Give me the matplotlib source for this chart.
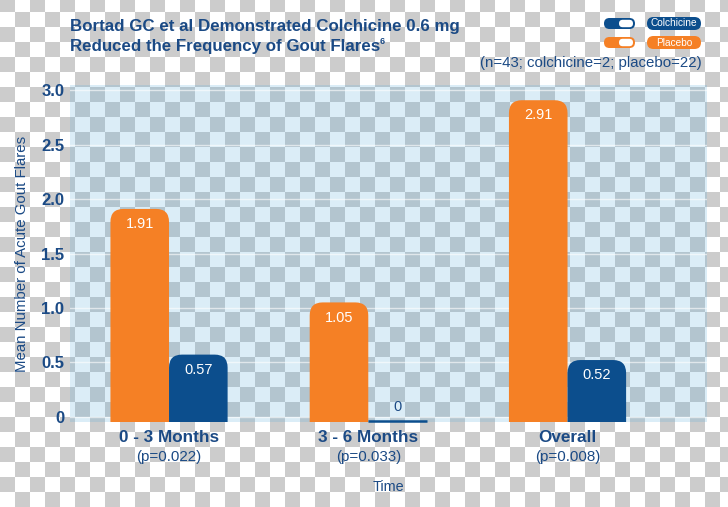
import numpy as np
import matplotlib
matplotlib.use("Agg")
import matplotlib.pyplot as plt
from matplotlib.patches import FancyBboxPatch

plt.rcParams['font.family'] = ['Liberation Sans', 'DejaVu Sans']

categories = ["0 - 3 Months", "3 - 6 Months", "Overall"]
p_values = ["(p=0.022)", "(p=0.033)", "(p=0.008)"]
placebo = [1.91, 1.05, 2.91]
colchicine = [0.57, 0.0, 0.52]
y_ticks = [0, 0.5, 1.0, 1.5, 2.0, 2.5, 3.0]
y_tick_labels = ["0" if t == 0 else f"{t:.1f}" for t in y_ticks]

ORANGE = "#f58025"
BLUE = "#0c4e8d"
TEXT = "#1b4a85"

W, H = 728, 507
fig = plt.figure(figsize=(W / 100, H / 100), dpi=100)

# checkerboard backdrop (transparent png look)
yy, xx = np.mgrid[0:H, 0:W]
cells = ((yy + 3) // 15 + xx // 15) % 2
bg = np.where(cells == 0, 204, 255).astype(np.uint8)
bg = np.repeat(bg[:, :, None], 3, axis=2)
fig.figimage(bg, xo=0, yo=0, origin='upper', zorder=-1)

ax = fig.add_axes([70 / W, 1 - 422 / H, 637 / W, 337 / H])
ax.set_facecolor((0.37, 0.68, 0.87, 0.22))
ax.set_xlim(-0.497, 2.70)
ax.set_ylim(-0.05, 3.05)
for s in ax.spines.values():
    s.set_visible(False)

x = np.arange(len(categories))
w = 0.294
asp = (637 / 3.197) / (337 / 3.1)
r = 0.065


def rounded_bar(xc, v, color):
    p = FancyBboxPatch((xc - w / 2, -0.6), w, v + 0.6,
                       boxstyle=f"round,pad=0,rounding_size={r}",
                       mutation_aspect=asp, fc=color, ec='none', zorder=2)
    ax.add_patch(p)


for i in range(len(categories)):
    for xc, v, col in [(x[i] - w / 2, placebo[i], ORANGE), (x[i] + w / 2, colchicine[i], BLUE)]:
        if v == 0:
            ax.plot([xc - w / 2, xc + w / 2], [-0.045, -0.045], color=BLUE, lw=1.8,
                    solid_capstyle='butt', zorder=2, clip_on=False)
            ax.annotate("0", (xc, 0), xytext=(0, 7), textcoords='offset points',
                        ha='center', va='center', color=TEXT, fontsize=10.5)
        else:
            rounded_bar(xc, v, col)
            ax.annotate(f"{v:.2f}", (xc, v), xytext=(0, -11), textcoords='offset points',
                        ha='center', va='center', color='white', fontsize=10.5, zorder=3)
    ax.text(x[i], -16 / 337, categories[i], transform=ax.get_xaxis_transform(),
            ha='center', va='center', fontsize=12.3, fontweight='bold', color=TEXT)
    ax.text(x[i], -35 / 337, p_values[i], transform=ax.get_xaxis_transform(),
            ha='center', va='center', fontsize=10.9, color=TEXT)

ax.set_xticks([])
ax.set_yticks(y_ticks, labels=y_tick_labels, fontweight='bold')
ax.tick_params(axis='y', length=0, pad=4, labelsize=12, labelcolor=TEXT)
ax.grid(axis='y', color='white', lw=1, alpha=0.6)
ax.set_axisbelow(True)

ax.set_xlabel("Time", va='center', fontsize=10.4, color=TEXT)
ax.xaxis.set_label_coords(0.5, -65 / 337)
ax.set_ylabel("Mean Number of Acute Gout Flares", va='center', fontsize=10.8, color=TEXT)
ax.yaxis.set_label_coords(-48 / 637, 0.5)

# decoration layer in pixel coordinates
dax = fig.add_axes([0, 0, 1, 1])
dax.set_xlim(0, W)
dax.set_ylim(H, 0)
dax.axis('off')
dax.patch.set_alpha(0)

dax.text(70, 26, "Bortad GC et al Demonstrated Colchicine 0.6 mg", ha='left', va='center',
         fontsize=12.2, fontweight='bold', color=TEXT)
t2 = dax.text(70, 46, "Reduced the Frequency of Gout Flares", ha='left', va='center',
              fontsize=12.2, fontweight='bold', color=TEXT)
renderer = fig.canvas.get_renderer()
bb = t2.get_window_extent(renderer)
dax.text(bb.x1 - 0.5, 41, "6", ha='left', va='center', fontsize=6.5, fontweight='bold', color=TEXT)

dax.text(702, 63, "(n=43; colchicine=2; placebo=22)", ha='right', va='center',
         fontsize=10.8, color=TEXT)

# legend pills
for top, col, name in [(18, BLUE, "Colchicine"), (37, ORANGE, "Placebo")]:
    dax.add_patch(FancyBboxPatch((604, top), 31, 11, boxstyle="round,pad=0,rounding_size=5.5",
                                 fc=col, ec='none'))
    dax.add_patch(FancyBboxPatch((619, top + 1.8), 14, 7.4, boxstyle="round,pad=0,rounding_size=3.7",
                                 fc='white', ec='none'))
    dax.add_patch(FancyBboxPatch((647, top - 1), 54, 13, boxstyle="round,pad=0,rounding_size=6.5",
                                 fc=col, ec='none'))
    dax.text(674, top + 5.5, name, ha='center', va='center', fontsize=7.3, color='white')

fig.savefig("out.png", dpi=100)
